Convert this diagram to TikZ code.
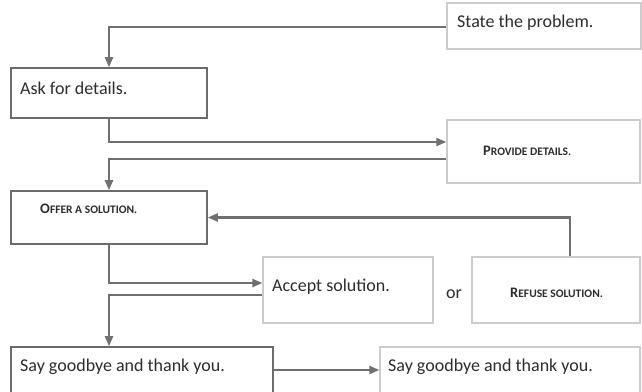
\documentclass[tikz,border=0pt]{standalone}
\usepackage{fontspec}
\setmainfont{Carlito}
\usepackage{tikz}
\usetikzlibrary{arrows, arrows.meta}
\definecolor{linegray}{RGB}{112,112,112}
\definecolor{darkbox}{RGB}{108,108,108}
\definecolor{lightbox}{RGB}{204,204,204}
\definecolor{ink}{RGB}{45,45,45}
\newcommand{\fakesc}[2]{{\fontsize{14.5}{15}\selectfont #1}{\fontsize{11.5}{13}\selectfont #2}}

\begin{document}
\begin{tikzpicture}[x=1pt,y=-1pt]
\tikzset{
  darkstep/.style={draw=darkbox, line width=1.6pt, rectangle, inner sep=0pt},
  lightstep/.style={draw=lightbox, line width=1.3pt, rectangle, inner sep=0pt},
  steptext/.style={anchor=west, inner sep=0pt, text=ink, font=\fontsize{18}{20}\selectfont},
  sctext/.style={anchor=west, inner sep=0pt, text=ink, font=\bfseries},
  flow/.style={draw=linegray, line width=2.2pt, -{Triangle[length=10pt,width=8pt]}}
}
\fill[white] (0,0) rectangle (642,391);
\useasboundingbox (0,0) rectangle (642,391);
\begin{scope}

\node[lightstep, minimum width=194pt, minimum height=46pt] (state) at (544,26) {};
\node[darkstep, minimum width=196pt, minimum height=50pt] (ask) at (109,93) {};
\node[lightstep, minimum width=193pt, minimum height=63pt] (provide) at (543.5,151.5) {};
\node[darkstep, minimum width=196pt, minimum height=53pt] (offer) at (109,217.5) {};
\node[lightstep, minimum width=170pt, minimum height=66pt] (accept) at (348,290) {};
\node[lightstep, minimum width=168pt, minimum height=66pt] (refuse) at (556,290) {};
\node[darkstep, minimum width=262pt, minimum height=46pt] (bye1) at (142,370) {};
\node[lightstep, minimum width=260pt, minimum height=46pt] (bye2) at (510,370) {};

\node[steptext] (stateT) at (457,23) {State the problem.};
\node[steptext] (askT) at (20,88) {Ask for details.};
\node[sctext] (provideT) at (483,151) {\fakesc{P}{ROVIDE DETAILS.}};
\node[sctext] (offerT) at (40,209) {\fakesc{O}{FFER A SOLUTION.}};
\node[steptext] (acceptT) at (272,287) {Accept solution.};
\node[steptext] (orT) at (446,294) {or};
\node[sctext] (refuseT) at (510,293) {\fakesc{R}{EFUSE SOLUTION.}};
\node[steptext] (bye1T) at (20,367) {Say goodbye and thank you.};
\node[steptext] (bye2T) at (388,367) {Say goodbye and thank you.};

\coordinate (s1) at ([yshift=-1pt]state.west);
\coordinate (p1) at ([yshift=9.5pt]provide.west);
\coordinate (p2) at ([yshift=-7.5pt]provide.west);
\coordinate (r1) at ([xshift=14pt]refuse.north);
\coordinate (a1) at ([yshift=7pt]accept.west);
\coordinate (a2) at ([yshift=-5pt]accept.west);
\coordinate (b1) at ([xshift=-33pt]bye1.north);

\draw[flow] (s1) -| (ask.north);
\draw[flow] (ask.south) |- (p1);
\draw[flow] (p2) -| (offer.north);
\draw[flow] (r1) |- (offer.east);
\draw[flow] (offer.south) |- (a1);
\draw[flow] (a2) -| (b1);
\draw[flow] (bye1.east) -- (bye2.west);

\end{scope}
\end{tikzpicture}
\end{document}
